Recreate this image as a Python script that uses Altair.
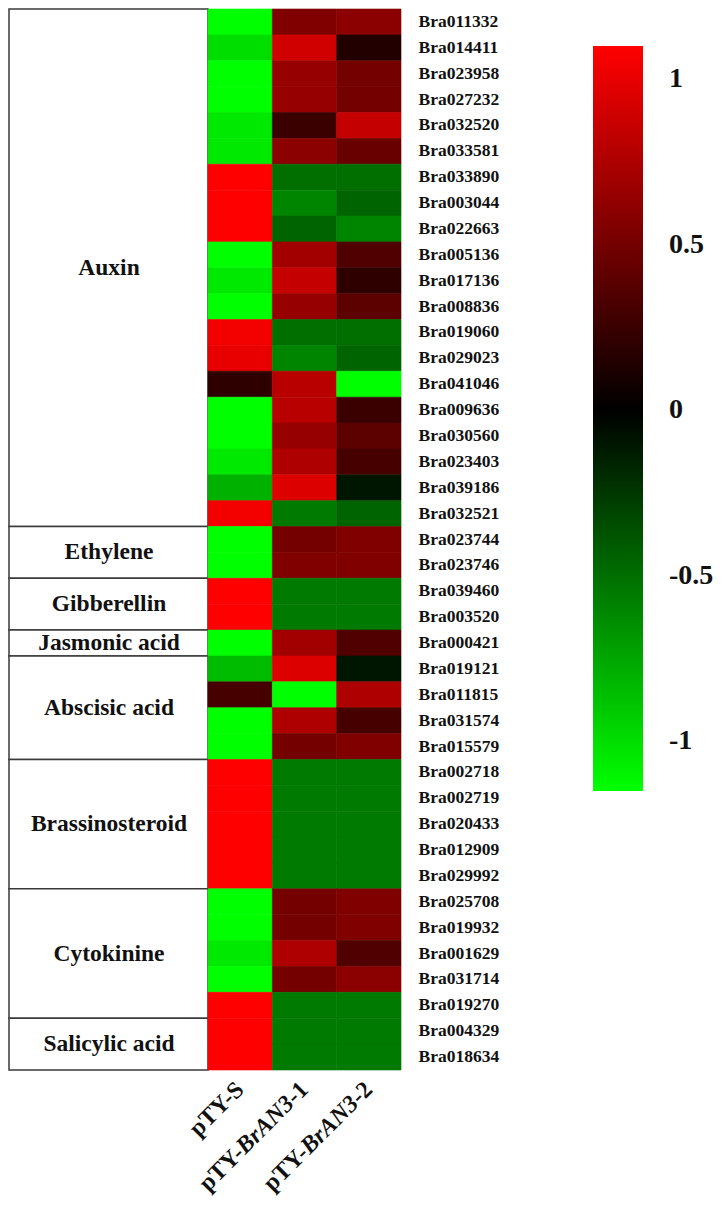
import altair as alt
import pandas as pd

genes = [
    "Bra011332", "Bra014411", "Bra023958", "Bra027232", "Bra032520", "Bra033581",
    "Bra033890", "Bra003044", "Bra022663", "Bra005136", "Bra017136", "Bra008836",
    "Bra019060", "Bra029023", "Bra041046", "Bra009636", "Bra030560", "Bra023403",
    "Bra039186", "Bra032521", "Bra023744", "Bra023746", "Bra039460", "Bra003520",
    "Bra000421", "Bra019121", "Bra011815", "Bra031574", "Bra015579", "Bra002718",
    "Bra002719", "Bra020433", "Bra012909", "Bra029992", "Bra025708", "Bra019932",
    "Bra001629", "Bra031714", "Bra019270", "Bra004329", "Bra018634",
]

samples = ["pTY-S", "pTY-BrAN3-1", "pTY-BrAN3-2"]

pty_s = [
    -1.15, -1.0, -1.15, -1.15, -1.05, -1.05, 1.1, 1.1, 1.1, -1.15, -1.05, -1.15,
    1.05, 1.0, 0.2, -1.15, -1.15, -1.05, -0.8, 1.05, -1.15, -1.15, 1.1, 1.1,
    -1.15, -0.85, 0.3, -1.15, -1.15, 1.1, 1.1, 1.1, 1.1, 1.1, -1.15, -1.15,
    -1.05, -1.15, 1.1, 1.1, 1.1,
]
bran3_1 = [
    0.55, 0.9, 0.65, 0.65, 0.25, 0.6, -0.5, -0.6, -0.45, 0.7, 0.85, 0.65,
    -0.5, -0.6, 0.8, 0.8, 0.65, 0.75, 0.95, -0.55, 0.5, 0.55, -0.55, -0.55,
    0.7, 0.95, -1.15, 0.75, 0.5, -0.55, -0.55, -0.55, -0.55, -0.55, 0.5, 0.5,
    0.75, 0.5, -0.55, -0.55, -0.55,
]
bran3_2 = [
    0.6, 0.15, 0.5, 0.5, 0.85, 0.45, -0.5, -0.45, -0.6, 0.35, 0.2, 0.4,
    -0.5, -0.45, -1.15, 0.25, 0.4, 0.3, -0.1, -0.45, 0.55, 0.55, -0.55, -0.55,
    0.35, -0.1, 0.75, 0.3, 0.55, -0.55, -0.55, -0.55, -0.55, -0.55, 0.55, 0.55,
    0.35, 0.6, -0.55, -0.55, -0.55,
]

categories = ["Auxin", "Ethylene", "Gibberellin", "Jasmonic acid", "Abscisic acid",
              "Brassinosteroid", "Cytokinine", "Salicylic acid"]
category_counts = [20, 2, 2, 1, 4, 5, 5, 2]

legend_values = [-1, -0.5, 0, 0.5, 1]

# sample label pieces: (sample, text, italic)
label_pieces = [
    ("pTY-S", "pTY-S", False),
    ("pTY-BrAN3-1", "pTY-", False), ("pTY-BrAN3-1", "BrAN3", True), ("pTY-BrAN3-1", "-1", False),
    ("pTY-BrAN3-2", "pTY-", False), ("pTY-BrAN3-2", "BrAN3", True), ("pTY-BrAN3-2", "-2", False),
]

# ---- build tables ----
rows = []
for i, g in enumerate(genes):
    for s, vals in zip(samples, [pty_s, bran3_1, bran3_2]):
        rows.append({"gene": g, "sample": s, "value": vals[i]})
heat_df = pd.DataFrame(rows)

cat_rows = []
start = 0
for c, n in zip(categories, category_counts):
    cat_rows.append({"category": c, "start": start, "end": start + n, "mid": start + n / 2})
    start += n
cat_df = pd.DataFrame(cat_rows)

H = 1061
FONT = "Liberation Serif"
XFS = 24  # x label font size

# approximate Times bold / bold-italic advance widths (em)
W_BOLD = {"p": .556, "T": .667, "Y": .722, "-": .333, "S": .556, "1": .5, "2": .5}
W_BI = {"B": .667, "r": .389, "A": .667, "N": .722, "3": .5}


def text_width(t, italic):
    table = W_BI if italic else W_BOLD
    return sum(table.get(ch, .5) for ch in t) * XFS


yq = alt.Scale(domain=[0, len(genes)], reverse=True, nice=False, zero=False)

boxes = alt.Chart(cat_df).mark_rect(fill="white", stroke="#3a3a3a", strokeWidth=1.5).encode(
    x=alt.value(0), x2=alt.value(199),
    y=alt.Y("start:Q", scale=yq, axis=None), y2="end:Q",
)
labels = alt.Chart(cat_df).mark_text(
    font=FONT, fontWeight="bold", fontSize=23.5, color="#111111", baseline="middle"
).encode(
    x=alt.value(100),
    y=alt.Y("mid:Q", scale=yq, axis=None),
    text="category:N",
)
cat_chart = (boxes + labels).properties(width=199, height=H)

color_domain = [-1.15, 0, 1.1]
color_range = ["#00ff00", "#000000", "#ff0000"]
color_scale = alt.Scale(domain=color_domain, range=color_range, interpolate="rgb")
xscale = alt.Scale(paddingInner=0, paddingOuter=0)

heat = alt.Chart(heat_df).mark_rect(
    strokeWidth=0.6, stroke={"expr": "scale('color', datum.value)"}
).encode(
    x=alt.X("sample:N", sort=samples, title=None, scale=xscale, axis=None),
    y=alt.Y("gene:N", sort=genes, title=None,
            scale=alt.Scale(paddingInner=0, paddingOuter=0),
            axis=alt.Axis(orient="right", labelFont=FONT, labelFontWeight="bold",
                          labelFontSize=17.5, labelColor="#111111", ticks=False,
                          domain=False, labelPadding=17, labelOverlap=False)),
    color=alt.Color("value:Q", scale=color_scale,
                    legend=alt.Legend(title=None, values=legend_values,
                                      labelExpr="'' + datum.value",
                                      direction="vertical", labelOffset=26,
                                      orient="none", legendX=584, legendY=37,
                                      gradientLength=745, gradientThickness=50)),
)

# rotated sample labels, built from pieces (right-aligned, chained along the baseline)
layers = [heat]
for s in samples:
    pieces = [p for p in label_pieces if p[0] == s]
    offset = 0.0
    for _, t, italic in reversed(pieces):
        piece_df = pd.DataFrame({"sample": [s], "t": [t]})
        kw = dict(font=FONT, fontWeight="bold", fontSize=XFS, color="#111111",
                  angle=315, align="right", baseline="middle", dx=-offset)
        if italic:
            kw["fontStyle"] = "italic"
        layers.append(
            alt.Chart(piece_df).mark_text(**kw).encode(
                x=alt.X("sample:N", sort=samples, scale=xscale, axis=None),
                y=alt.value(H + 16),
                text="t:N",
            )
        )
        offset += text_width(t, italic)

heat_chart = alt.layer(*layers).properties(width=193, height=H)

chart = alt.hconcat(cat_chart, heat_chart, spacing=0, bounds="flush").properties(
    padding={"left": 0, "top": 0, "right": 0, "bottom": 0}
).configure_view(stroke=None).configure_legend(
    gradientStrokeWidth=0,
    labelFont=FONT, labelFontWeight="bold", labelFontSize=28, labelColor="#111111",
)

chart.save("out.html", embed_options={"renderer": "svg", "actions": False})
